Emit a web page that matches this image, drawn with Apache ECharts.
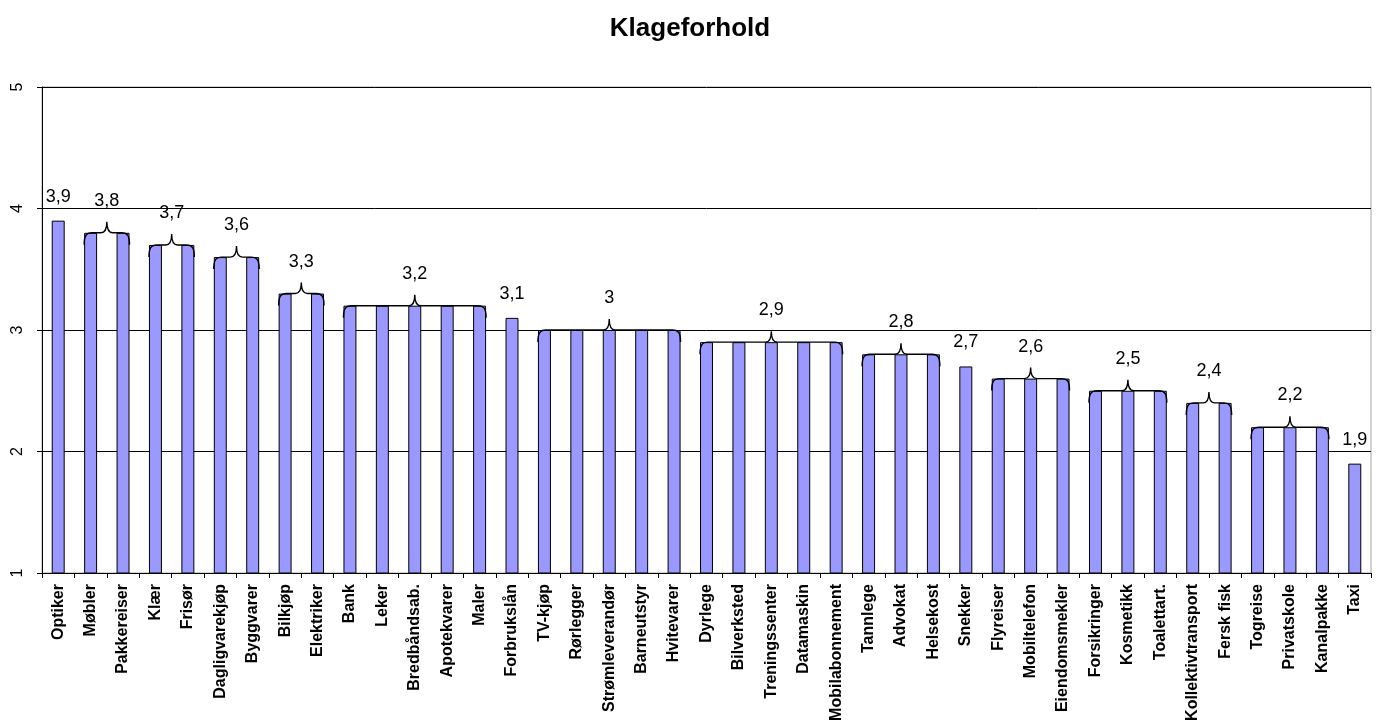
<!DOCTYPE html>
<html>
<head>
<meta charset="utf-8">
<title>Klageforhold</title>
<script src="https://cdn.jsdelivr.net/npm/echarts@6/dist/echarts.min.js"></script>
<style>
  html, body { margin: 0; padding: 0; background: #fff; }
  #chart { width: 1380px; height: 725px; }
</style>
</head>
<body>
<div id="chart"></div>
<script>
// Complaint ratio per trade, sorted from highest to lowest
const categories = [
  'Optiker', 'Møbler', 'Pakkereiser', 'Klær', 'Frisør', 'Dagligvarekjøp', 'Byggvarer',
  'Bilkjøp', 'Elektriker', 'Bank', 'Leker', 'Bredbåndsab.', 'Apotekvarer', 'Maler',
  'Forbrukslån', 'TV-kjøp', 'Rørlegger', 'Strømleverandør', 'Barneutstyr', 'Hvitevarer',
  'Dyrlege', 'Bilverksted', 'Treningssenter', 'Datamaskin', 'Mobilabonnement',
  'Tannlege', 'Advokat', 'Helsekost', 'Snekker', 'Flyreiser', 'Mobiltelefon',
  'Eiendomsmekler', 'Forsikringer', 'Kosmetikk', 'Toalettart.', 'Kollektivtransport',
  'Fersk fisk', 'Togreise', 'Privatskole', 'Kanalpakke', 'Taxi'
];
const values = [
  3.9, 3.8, 3.8, 3.7, 3.7, 3.6, 3.6,
  3.3, 3.3, 3.2, 3.2, 3.2, 3.2, 3.2,
  3.1, 3.0, 3.0, 3.0, 3.0, 3.0,
  2.9, 2.9, 2.9, 2.9, 2.9,
  2.8, 2.8, 2.8, 2.7, 2.6, 2.6,
  2.6, 2.5, 2.5, 2.5, 2.4,
  2.4, 2.2, 2.2, 2.2, 1.9
];
const yTicks = [1, 2, 3, 4, 5];

// Runs of neighbouring bars with the same value share one label and a brace
const groups = [];
values.forEach((v, i) => {
  const last = groups[groups.length - 1];
  if (last && last[2] === v) last[1] = i;
  else groups.push([i, i, v]);
});

const fmt = v => String(v).replace('.', ',');
const FONT = 'Arial, "Liberation Sans", sans-serif';

function renderGroup(params, api) {
  const i0 = api.value(0), i1 = api.value(1), v = api.value(2);
  const p0 = api.coord([i0, v]);
  const p1 = api.coord([i1, v]);
  const catW = api.size([1, 0])[0];
  const half = catW * 0.4 / 2;
  const left = p0[0] - half, right = p1[0] + half, y = p0[1];
  const mid = (left + right) / 2;
  const children = [];
  let labelY = y - 24;
  if (i1 > i0) {
    const r = 8;
    const path =
      'M' + left + ',' + (y + 12) +
      ' C' + left + ',' + (y + 3) + ' ' + (left + 2) + ',' + y + ' ' + (left + r) + ',' + y +
      ' L' + (mid - 6) + ',' + y +
      ' Q' + mid + ',' + y + ' ' + mid + ',' + (y - 11) +
      ' Q' + mid + ',' + y + ' ' + (mid + 6) + ',' + y +
      ' L' + (right - r) + ',' + y +
      ' C' + (right - 2) + ',' + y + ' ' + right + ',' + (y + 3) + ' ' + right + ',' + (y + 12);
    children.push({
      type: 'path',
      shape: { pathData: path },
      style: { fill: 'none', stroke: '#000', lineWidth: 1.4 }
    });
    labelY = y - 32;
  }
  children.push({
    type: 'text',
    style: {
      text: fmt(v),
      x: mid,
      y: labelY,
      align: 'center',
      verticalAlign: 'middle',
      font: '18px ' + FONT,
      fill: '#000'
    }
  });
  return { type: 'group', children: children };
}

const chart = echarts.init(document.getElementById('chart'));
chart.setOption({
  animation: false,
  backgroundColor: '#fff',
  title: {
    text: 'Klageforhold',
    left: 'center',
    top: 11,
    textStyle: { fontFamily: FONT, fontSize: 26, fontWeight: 'bold', color: '#000' }
  },
  grid: {
    left: 42, right: 9, top: 87, bottom: 152,
    show: true, borderColor: '#a6a6a6', borderWidth: 1, backgroundColor: 'transparent'
  },
  xAxis: {
    type: 'category',
    data: categories,
    axisLine: { lineStyle: { color: '#000', width: 1 } },
    axisTick: { show: true, alignWithLabel: false, length: 5, lineStyle: { color: '#000' } },
    axisLabel: {
      interval: 0, rotate: 90, margin: 11,
      fontFamily: FONT, fontSize: 16, fontWeight: 'bold', color: '#000'
    }
  },
  yAxis: {
    type: 'value',
    min: yTicks[0],
    max: yTicks[yTicks.length - 1],
    interval: 1,
    axisLine: { show: true, lineStyle: { color: '#000', width: 1 } },
    axisTick: { show: true, length: 5, lineStyle: { color: '#000' } },
    axisLabel: {
      rotate: 90, margin: 16,
      fontFamily: FONT, fontSize: 16, color: '#000'
    },
    splitLine: { show: true, lineStyle: { color: '#000', width: 1 } }
  },
  series: [
    {
      type: 'bar',
      data: values,
      barWidth: '40%',
      itemStyle: { color: '#9999FF', borderColor: '#000', borderWidth: 1 },
      z: 2
    },
    {
      type: 'custom',
      data: groups,
      dimensions: ['from', 'to', 'value'],
      encode: { x: [0, 1], y: 2 },
      renderItem: renderGroup,
      clip: false,
      silent: true,
      z: 5
    }
  ]
});
</script>
</body>
</html>
